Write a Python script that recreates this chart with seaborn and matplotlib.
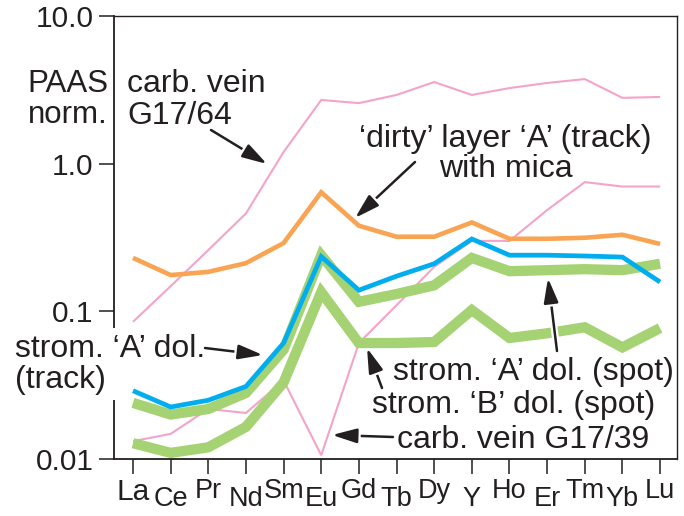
import numpy as np
import pandas as pd
import matplotlib
matplotlib.use("Agg")
import matplotlib.pyplot as plt
import matplotlib.patheffects as pe
from matplotlib.transforms import ScaledTranslation
from matplotlib.patches import Rectangle
import seaborn as sns

# ---------------- data ----------------
elements = ["La", "Ce", "Pr", "Nd", "Sm", "Eu", "Gd", "Tb", "Dy", "Y", "Ho", "Er", "Tm", "Yb", "Lu"]
vein_g17_64 = [0.085, 0.148, 0.26, 0.46, 1.2, 2.7, 2.57, 2.92, 3.57, 2.92, 3.25, 3.52, 3.74, 2.79, 2.83]
vein_g17_39 = [0.0132, 0.0148, 0.0218, 0.0205, 0.034, 0.0106, 0.061, 0.11, 0.20, 0.30, 0.30, 0.485, 0.75, 0.70, 0.70]
dirty_layer_a = [0.23, 0.176, 0.185, 0.212, 0.29, 0.64, 0.38, 0.32, 0.32, 0.40, 0.31, 0.31, 0.315, 0.33, 0.286]
strom_a_track = [0.029, 0.0225, 0.025, 0.031, 0.061, 0.235, 0.139, 0.173, 0.21, 0.309, 0.24, 0.24, 0.237, 0.233, 0.158]
strom_a_spot = [0.024, 0.020, 0.0218, 0.028, 0.055, 0.24, 0.116, 0.131, 0.15, 0.23, 0.187, 0.19, 0.193, 0.19, 0.21]
strom_b_spot = [0.0128, 0.011, 0.012, 0.0165, 0.033, 0.135, 0.061, 0.061, 0.062, 0.102, 0.066, 0.071, 0.078, 0.057, 0.077]
y_ticks = [0.01, 0.1, 1.0, 10.0]
y_tick_labels = ["0.01", "0.1", "1.0", "10.0"]

# ---------------- style ----------------
sns.set_style("white")
plt.rcParams["font.family"] = ["Liberation Sans", "DejaVu Sans"]
INK = "#231F20"
PINK = "#F4A3C9"
ORANGE = "#F8A453"
BLUE = "#00AEEF"
GREEN = "#A5D273"

W, H = 684, 516
fig = plt.figure(figsize=(W / 100, H / 100), dpi=100)
ax = fig.add_axes([114 / W, 57 / H, 563 / W, 443 / H])

xpos = np.arange(len(elements))
series = [
    (vein_g17_64, PINK, 1.5, 2),
    (vein_g17_39, PINK, 1.5, 2),
    (strom_b_spot, GREEN, 7.4, 3),
    (strom_a_spot, GREEN, 7.4, 3),
    (strom_a_track, BLUE, 3.4, 4),
    (dirty_layer_a, ORANGE, 3.3, 5),
]
for vals, col, lw, z in series:
    df = pd.DataFrame({"x": xpos, "y": vals})
    sns.lineplot(data=df, x="x", y="y", ax=ax, color=col, linewidth=lw,
                 sort=False, estimator=None, zorder=z,
                 solid_joinstyle="miter", solid_capstyle="butt")

ax.set_yscale("log")
ax.set_ylim(0.01, 10)
ax.set_xlim(-0.505, 14.45)
ax.set_yticks(y_ticks)
ax.set_yticklabels(y_tick_labels)
ax.yaxis.set_minor_locator(matplotlib.ticker.NullLocator())
ax.set_xticks(xpos)
ax.set_xticklabels(elements)
ax.set_xlabel("")
ax.set_ylabel("")

for side in ["left", "bottom"]:
    ax.spines[side].set_linewidth(1.3)
    ax.spines[side].set_color(INK)
for side in ["top", "right"]:
    ax.spines[side].set_linewidth(1.0)
    ax.spines[side].set_color(INK)

ax.tick_params(axis="y", direction="out", length=10.8, width=1.1, color=INK,
               labelsize=21.5, pad=4, labelcolor=INK, left=True)
ax.tick_params(axis="x", direction="out", length=10.5, width=1.1, color=INK,
               labelsize=19.5, pad=3, labelcolor=INK, bottom=True)

for i, lab in enumerate(ax.get_xticklabels()):
    if i == 0:
        lab.set_fontsize(21.5)
    if i % 2 == 1:
        lab.set_transform(lab.get_transform() + ScaledTranslation(0, -6 / 72, fig.dpi_scale_trans))

# white block interrupting the left spine behind the left annotation
fig.add_artist(Rectangle((8 / W, 1 - 400 / H), 117 / W, 72 / H, transform=fig.transFigure,
                         facecolor="white", edgecolor="none", zorder=5))

FS = 23


def ftext(x, y, s, ha="left", size=FS):
    fig.text(x / W, 1 - y / H, s, ha=ha, va="baseline", fontsize=size, color=INK, zorder=6)


ftext(27, 92, "PAAS", size=22.5)
ftext(28, 123, "norm.", size=22.5)
ftext(127, 92, "carb. vein")
ftext(127, 124, "G17/64")
ftext(505, 147, "\u2018dirty\u2019 layer \u2018A\u2019 (track)", ha="center")
ftext(506, 177, "with mica", ha="center")
ftext(15, 357, "strom. \u2018A\u2019 dol.")
ftext(15, 388, "(track)")
ftext(393, 380, "strom. \u2018A\u2019 dol. (spot)")
ftext(372, 413, "strom. \u2018B\u2019 dol. (spot)")
ftext(397, 448, "carb. vein G17/39")

arrows = [
    ((211, 130), (267, 164)),
    ((415, 162), (355, 218)),
    ((205, 348), (263, 355)),
    ((557, 351), (548, 278)),
    ((382, 388), (367, 348)),
    ((393, 437), (332, 435)),
]
for (tx, ty), (hx, hy) in arrows:
    an = ax.annotate("", xy=(hx, H - hy), xytext=(tx, H - ty),
                     xycoords="figure pixels", textcoords="figure pixels",
                     annotation_clip=False, zorder=10,
                     arrowprops=dict(arrowstyle="-|>,head_length=0.75,head_width=0.22",
                                     mutation_scale=20, lw=1.8, color=INK,
                                     shrinkA=0, shrinkB=0))
    an.arrow_patch.set_path_effects([pe.Stroke(linewidth=5, foreground="white"), pe.Normal()])

fig.savefig("out.png", dpi=100)
